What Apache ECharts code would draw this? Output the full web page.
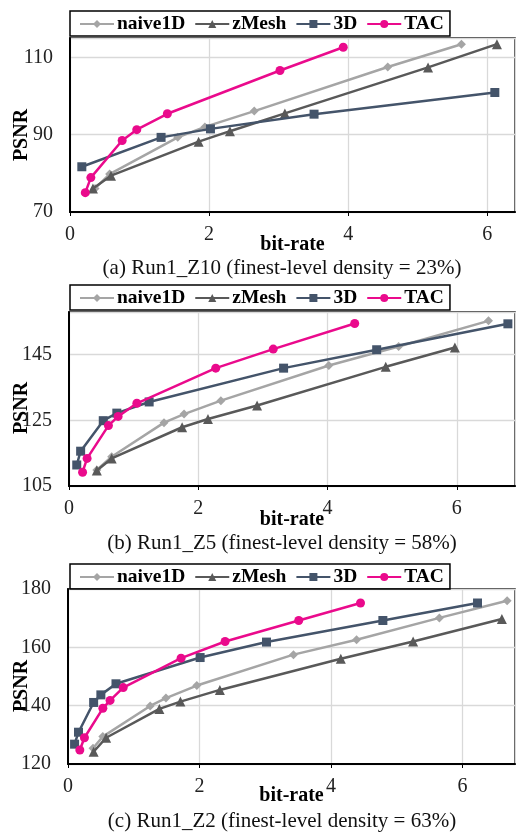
<!DOCTYPE html>
<html>
<head>
<meta charset="utf-8">
<script src="https://cdn.jsdelivr.net/npm/echarts@6/dist/echarts.min.js"></script>
<style>
  html, body { margin: 0; padding: 0; background: #fff; }
  #chart { width: 516px; height: 832px; }
</style>
</head>
<body>
<div id="chart"></div>
<script>
// Rate-distortion curves: PSNR vs bit-rate for three Run1 datasets.
const seriesNames = ['naive1D', 'zMesh', '3D', 'TAC'];

// (a) Run1_Z10
const z10Naive1D = [[0.36, 76.1], [0.57, 79.8], [1.55, 89.3], [1.94, 92.0], [2.65, 96.1], [4.57, 107.5], [5.63, 113.4]];
const z10ZMesh   = [[0.33, 76.1], [0.59, 79.4], [1.85, 88.2], [2.30, 90.9], [3.09, 95.5], [5.15, 107.4], [6.14, 113.4]];
const z10ThreeD  = [[0.17, 81.7], [1.31, 89.3], [2.02, 91.5], [3.51, 95.3], [6.11, 100.9]];
const z10TAC     = [[0.22, 75.0], [0.30, 78.9], [0.75, 88.5], [0.96, 91.3], [1.40, 95.4], [3.02, 106.6], [3.93, 112.6]];

// (b) Run1_Z5
const z5Naive1D = [[0.43, 109.9], [0.66, 113.9], [1.47, 124.3], [1.78, 126.9], [2.35, 131.0], [4.02, 141.7], [5.10, 147.5], [6.49, 155.3]];
const z5ZMesh   = [[0.43, 109.7], [0.66, 113.4], [1.75, 122.9], [2.15, 125.4], [2.91, 129.5], [4.90, 141.3], [5.97, 147.2]];
const z5ThreeD  = [[0.12, 111.4], [0.18, 115.6], [0.53, 124.9], [0.74, 127.2], [1.24, 130.6], [3.32, 140.9], [4.76, 146.5], [6.79, 154.4]];
const z5TAC     = [[0.21, 109.2], [0.28, 113.4], [0.61, 123.4], [0.76, 126.2], [1.05, 130.2], [2.27, 140.9], [3.16, 146.7], [4.42, 154.5]];

// (c) Run1_Z2
const z2Naive1D = [[0.38, 125.4], [0.53, 129.4], [1.25, 139.9], [1.49, 142.6], [1.96, 146.9], [3.43, 157.5], [4.39, 162.6], [5.65, 170.1], [6.68, 176.0]];
const z2ZMesh   = [[0.39, 124.2], [0.58, 129.0], [1.39, 138.9], [1.71, 141.4], [2.31, 145.4], [4.15, 156.1], [5.25, 162.0], [6.60, 169.7]];
const z2ThreeD  = [[0.10, 126.8], [0.16, 130.9], [0.39, 141.1], [0.50, 143.7], [0.73, 147.5], [2.01, 156.5], [3.02, 161.8], [4.79, 169.2], [6.23, 175.2]];
const z2TAC     = [[0.18, 124.8], [0.25, 129.0], [0.53, 139.1], [0.64, 141.8], [0.84, 146.2], [1.72, 156.3], [2.39, 162.0], [3.51, 169.2], [4.45, 175.2]];

// Axis ranges per panel
const xRanges = [[0, 6.4], [0, 6.9], [0, 6.8]];
const yRanges = [[70, 115], [105, 158], [120, 180]];
const xInterval = 2;
const yInterval = 20;

const captions = [
  '(a) Run1_Z10 (finest-level density = 23%)',
  '(b) Run1_Z5 (finest-level density = 58%)',
  '(c) Run1_Z2 (finest-level density = 63%)'
];

const panelData = [
  [z10Naive1D, z10ZMesh, z10ThreeD, z10TAC],
  [z5Naive1D, z5ZMesh, z5ThreeD, z5TAC],
  [z2Naive1D, z2ZMesh, z2ThreeD, z2TAC]
];

// Layout of each panel (pixels)
const panels = [
  { left: 70, top: 38, height: 174, legendTop: 11, captionY: 268, nameGap: 23, psnrY: 135, topLabel: false },
  { left: 69, top: 312, height: 174, legendTop: 285, captionY: 543, nameGap: 24, psnrY: 408, topLabel: false },
  { left: 68, top: 589, height: 175, legendTop: 564, captionY: 821, nameGap: 22, psnrY: 686, topLabel: true }
];

const styles = {
  naive1D: { color: '#a5a5a5', symbol: 'diamond', size: 9 },
  zMesh:   { color: '#595959', symbol: 'triangle', size: 10 },
  '3D':    { color: '#44546a', symbol: 'rect', size: 9 },
  TAC:     { color: '#ea0a8c', symbol: 'circle', size: 9 }
};

const serif = '"Liberation Serif", "Times New Roman", serif';

const grids = [], xAxes = [], yAxes = [], series = [], legends = [], graphics = [];

panels.forEach((p, i) => {
  grids.push({
    left: p.left, top: p.top, right: 1, height: p.height,
    containLabel: false, outerBoundsMode: 'none',
    show: true, borderColor: '#000', borderWidth: 1.3, backgroundColor: 'transparent'
  });
  xAxes.push({
    type: 'value', gridIndex: i, min: xRanges[i][0], max: xRanges[i][1], interval: xInterval,
    name: 'bit-rate', nameLocation: 'middle', nameGap: p.nameGap, nameMoveOverlap: false,
    nameTextStyle: { fontFamily: serif, fontWeight: 'bold', fontSize: 20, color: '#000' },
    axisLine: { show: true, lineStyle: { color: '#000', width: 2 } },
    axisTick: { show: true, length: 4, lineStyle: { color: '#000' } },
    axisLabel: { fontFamily: serif, fontSize: 20, color: '#222', margin: 13, showMaxLabel: false },
    splitLine: { show: true, lineStyle: { color: '#d9d9d9', width: 1.3 } }
  });
  yAxes.push({
    type: 'value', gridIndex: i, min: yRanges[i][0], max: yRanges[i][1], interval: yInterval,
    axisLine: { show: true, lineStyle: { color: '#000', width: 2 } },
    axisTick: { show: false },
    axisLabel: { fontFamily: serif, fontSize: 20, color: '#222', margin: 17, showMaxLabel: p.topLabel },
    splitLine: { show: true, lineStyle: { color: '#d9d9d9', width: 1.3 } }
  });
  seriesNames.forEach((name, k) => {
    const s = styles[name];
    series.push({
      type: 'line', name: name, xAxisIndex: i, yAxisIndex: i,
      data: panelData[i][k],
      symbol: s.symbol, symbolSize: s.size,
      lineStyle: { color: s.color, width: 2.5 },
      itemStyle: { color: s.color },
      z: 2 + k,
      animation: false
    });
  });
  legends.push({
    data: seriesNames, left: 70, top: p.legendTop, orient: 'horizontal',
    itemWidth: 34, itemHeight: 10, itemGap: 9,
    padding: [3, 6, 2, 9],
    borderColor: '#000', borderWidth: 1.5,
    textStyle: { fontFamily: serif, fontWeight: 'bold', fontSize: 19.5, color: '#000', padding: [0, 0, 0, -2] },
    selectedMode: false
  });
  // y-axis title, rotated
  graphics.push({
    type: 'text', x: 22, y: p.psnrY, rotation: Math.PI / 2,
    style: {
      text: 'PSNR', fontFamily: serif, fontWeight: 'bold', fontSize: 20, fill: '#000',
      textAlign: 'center', textVerticalAlign: 'middle'
    }
  });
  // panel caption
  graphics.push({
    type: 'text', x: 282, y: p.captionY,
    style: {
      text: captions[i], fontFamily: serif, fontSize: 21, fill: '#111',
      textAlign: 'center', textVerticalAlign: 'middle'
    }
  });
});

const chart = echarts.init(document.getElementById('chart'), null, { renderer: 'canvas' });
chart.setOption({
  animation: false,
  backgroundColor: '#fff',
  grid: grids,
  xAxis: xAxes,
  yAxis: yAxes,
  legend: legends,
  series: series,
  graphic: graphics
});
</script>
</body>
</html>
